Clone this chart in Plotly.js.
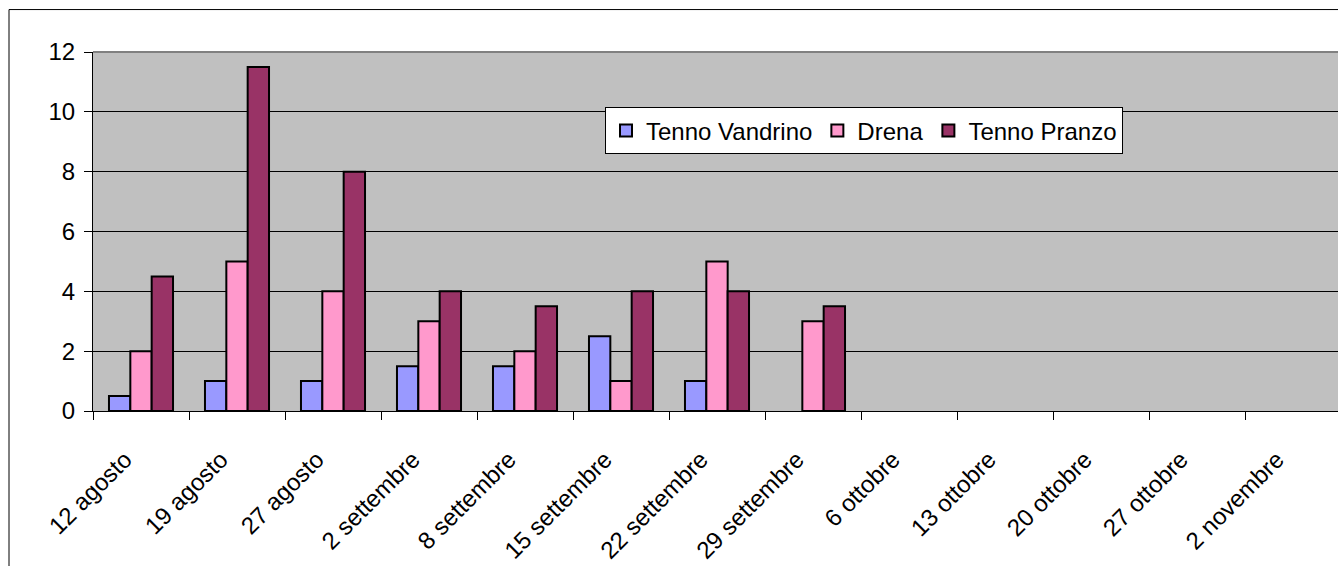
<!DOCTYPE html>
<html>
<head>
<meta charset="utf-8">
<script src="https://cdn.plot.ly/plotly-3.0.1.min.js"></script>
<style>
html,body{margin:0;padding:0;overflow:hidden;background:#fff;}
#chart{width:1400px;height:566px;}
</style>
</head>
<body>
<div id="chart"></div>
<script>
const categories = ["12 agosto","19 agosto","27 agosto","2 settembre","8 settembre","15 settembre","22 settembre","29 settembre","6 ottobre","13 ottobre","20 ottobre","27 ottobre","2 novembre"];
const tennoVandrino = [0.5, 1, 1, 1.5, 1.5, 2.5, 1, null, null, null, null, null, null];
const drena         = [2, 5, 4, 3, 2, 1, 5, 3, null, null, null, null, null];
const tennoPranzo   = [4.5, 11.5, 8, 4, 3.5, 4, 4, 3.5, null, null, null, null, null];
const seriesNames = ["Tenno Vandrino", "Drena", "Tenno Pranzo"];
const seriesColors = ["#9999FF", "#FF99CC", "#993366"];
const yTicks = [0, 2, 4, 6, 8, 10, 12];

const FONT = "Liberation Sans, Arial, sans-serif";
const W = 1400, H = 566;
const mL = 93, mT = 51.5, mB = 155, plotRight = 1341;
const mR = W - plotRight;
const pw = plotRight - mL, ph = H - mT - mB;

const traces = [tennoVandrino, drena, tennoPranzo].map((vals, i) => ({
  type: "bar",
  name: seriesNames[i],
  x: categories,
  y: vals,
  marker: {color: seriesColors[i], line: {color: "#000", width: 2}},
  hoverinfo: "x+y+name"
}));

const frameX = (9 - mL) / pw;
const frameY = (H - mB - 9) / ph;

const layout = {
  width: W, height: H,
  margin: {l: mL, r: mR, t: mT, b: mB, pad: 0},
  paper_bgcolor: "#ffffff",
  plot_bgcolor: "#C0C0C0",
  barmode: "group",
  bargap: 0.333,
  bargroupgap: 0,
  font: {family: FONT, size: 24, color: "#000"},
  showlegend: true,
  legend: {
    orientation: "h",
    x: (605 - mL) / pw, y: (H - mB - 107) / ph,
    xanchor: "left", yanchor: "top",
    bgcolor: "#ffffff", bordercolor: "#000", borderwidth: 1,
    font: {family: FONT, size: 24, color: "#000"},
    itemwidth: 30,
    valign: "middle",
    traceorder: "normal"
  },
  xaxis: {
    type: "category",
    range: [-0.5, categories.length - 0.5],
    tickson: "boundaries",
    ticks: "outside", ticklen: 8, tickcolor: "#000", tickwidth: 1,
    tickangle: -45,
    ticklabelshift: -16,
    ticklabelstandoff: 24,
    showgrid: false,
    showline: true, linecolor: "#000", linewidth: 1,
    tickfont: {family: FONT, size: 24, color: "#000"},
    fixedrange: true
  },
  yaxis: {
    range: [0, 12],
    tickvals: yTicks,
    ticks: "outside", ticklen: 8, tickcolor: "#000", tickwidth: 1,
    showgrid: true, gridcolor: "#000", gridwidth: 1,
    zeroline: false,
    showline: true, linecolor: "#000", linewidth: 1,
    tickfont: {family: FONT, size: 24, color: "#000"},
    ticklabelstandoff: 4,
    fixedrange: true
  },
  shapes: [
    {type: "line", xref: "paper", yref: "paper", x0: 0, x1: 1.1, y0: 1, y1: 1,
     line: {color: "#808080", width: 2}, layer: "above"},
    {type: "line", xref: "paper", yref: "paper", x0: frameX, x1: 1.2, y0: frameY, y1: frameY,
     line: {color: "#000", width: 1}},
    {type: "line", xref: "paper", yref: "paper", x0: frameX, x1: frameX, y0: frameY, y1: -1,
     line: {color: "#000", width: 1}}
  ]
};

Plotly.newPlot("chart", traces, layout, {displayModeBar: false, staticPlot: true});
</script>
</body>
</html>
